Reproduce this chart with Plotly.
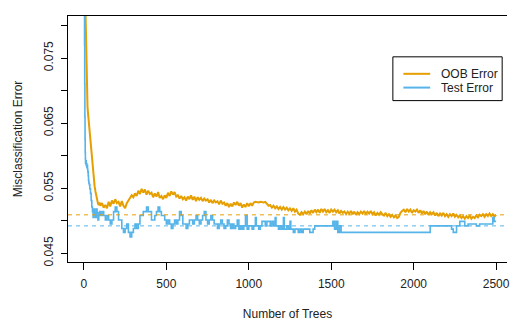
import plotly.graph_objects as go

# ---------------- data ----------------
early_trees = [1, 2, 3, 4, 5, 6, 7, 8, 9, 10, 12, 14, 16, 18, 20, 22, 24, 26, 28, 30,
               33, 36, 40, 44, 48, 52, 56, 60, 65, 70, 75, 80, 85, 90, 95, 100]

oob_early = [0.112, 0.106, 0.100, 0.096, 0.092, 0.089, 0.087, 0.085, 0.083, 0.082,
             0.0795, 0.0755, 0.0720, 0.0695, 0.0682, 0.0675, 0.0668, 0.0662, 0.0655, 0.0648,
             0.0640, 0.0630, 0.0618, 0.0607, 0.0597, 0.0588, 0.0575, 0.0562,
             0.0553, 0.0545, 0.0538, 0.0532, 0.0527, 0.0524, 0.0528, 0.0523]

# OOB error every 10 trees from 110 to 2500
oob_late = [
    0.0527, 0.0520, 0.0524, 0.0519, 0.0529, 0.0522, 0.0531, 0.0526, 0.0533, 0.0527,
    0.0529, 0.0522, 0.0530, 0.0523, 0.0519, 0.0527, 0.0531, 0.0535, 0.0539, 0.0536,
    0.0542, 0.0538, 0.0546, 0.0541, 0.0549, 0.0543, 0.0548, 0.0540, 0.0546, 0.0541,
    0.0543, 0.0536, 0.0542, 0.0537, 0.0544, 0.0535, 0.0538, 0.0533, 0.0539, 0.0535,
    0.0543, 0.0538, 0.0545, 0.0540, 0.0544, 0.0537, 0.0539, 0.0534, 0.0538, 0.0533,
    0.0536, 0.0531, 0.0537, 0.0533, 0.0539, 0.0532, 0.0537, 0.0530, 0.0536, 0.0532,
    0.0535, 0.0530, 0.0534, 0.0531, 0.0533, 0.0528, 0.0532, 0.0527, 0.0531, 0.0528,
    0.0530, 0.0525, 0.0531, 0.0526, 0.0528, 0.0523, 0.0527, 0.0521, 0.0526, 0.0522,
    0.0528, 0.0524, 0.0529, 0.0523, 0.0527, 0.0520, 0.0525, 0.0521, 0.0527, 0.0522,
    0.0527, 0.0523, 0.0528, 0.0529, 0.0528, 0.0528, 0.0529, 0.0528, 0.0528, 0.0529,
    0.0526, 0.0523, 0.0524, 0.0520, 0.0523, 0.0519, 0.0522, 0.0518, 0.0521, 0.0517,
    0.0521, 0.0517, 0.0520, 0.0516, 0.0519, 0.0515, 0.0519, 0.0514, 0.0517, 0.0511,
    0.0509, 0.0513, 0.0510, 0.0514, 0.0510, 0.0515, 0.0511, 0.0516, 0.0512, 0.0517,
    0.0513, 0.0517, 0.0512, 0.0518, 0.0514, 0.0518, 0.0513, 0.0516, 0.0512, 0.0517,
    0.0514, 0.0517, 0.0513, 0.0516, 0.0511, 0.0515, 0.0512, 0.0514, 0.0510, 0.0514,
    0.0511, 0.0515, 0.0510, 0.0514, 0.0509, 0.0513, 0.0510, 0.0514, 0.0511, 0.0515,
    0.0510, 0.0514, 0.0511, 0.0515, 0.0510, 0.0513, 0.0508, 0.0512, 0.0509, 0.0513,
    0.0510, 0.0508, 0.0512, 0.0507, 0.0510, 0.0506, 0.0509, 0.0505, 0.0508, 0.0504,
    0.0506, 0.0512, 0.0515, 0.0517, 0.0513, 0.0518, 0.0514, 0.0517, 0.0512, 0.0516,
    0.0514, 0.0517, 0.0512, 0.0516, 0.0511, 0.0515, 0.0510, 0.0514, 0.0509, 0.0513,
    0.0510, 0.0513, 0.0508, 0.0512, 0.0507, 0.0511, 0.0508, 0.0512, 0.0507, 0.0510,
    0.0506, 0.0510, 0.0507, 0.0511, 0.0506, 0.0509, 0.0505, 0.0508, 0.0504, 0.0507,
    0.0503, 0.0507, 0.0504, 0.0508, 0.0503, 0.0506, 0.0504, 0.0508, 0.0505, 0.0509,
    0.0507, 0.0510, 0.0506, 0.0510, 0.0507, 0.0511, 0.0507, 0.0510, 0.0506, 0.0509,
]
late_trees = list(range(110, 2501, 10))

test_early = [0.100, 0.092, 0.084, 0.077, 0.071, 0.066, 0.0625, 0.0605, 0.0595, 0.0588,
              0.0592, 0.0585, 0.0588, 0.0582, 0.0585, 0.0579, 0.0575, 0.0569, 0.0562, 0.0558,
              0.0555, 0.0549, 0.0542, 0.0531, 0.0521, 0.0514, 0.0505, 0.0518,
              0.0512, 0.0505, 0.0518, 0.0512, 0.0501, 0.0508, 0.0514, 0.0508]

# test error every 10 trees from 110 to 1000
mid_trees = list(range(110, 1001, 10))
test_mid = [
    0.0514, 0.0508, 0.0501, 0.0508, 0.0501, 0.0495, 0.0501, 0.0514, 0.0521, 0.0514,
    0.0501, 0.0501, 0.0488, 0.0482, 0.0488, 0.0495, 0.0482, 0.0475, 0.0482, 0.0488,
    0.0495, 0.0488, 0.0495, 0.0508, 0.0508, 0.0514, 0.0514, 0.0521, 0.0514, 0.0514,
    0.0501, 0.0501, 0.0508, 0.0514, 0.0521, 0.0514, 0.0508, 0.0508, 0.0501,
    0.0495, 0.0501, 0.0495, 0.0488, 0.0495, 0.0501, 0.0495, 0.0501, 0.0514, 0.0508,
    0.0495, 0.0495, 0.0488, 0.0495, 0.0501, 0.0501, 0.0495, 0.0501, 0.0508, 0.0501,
    0.0495, 0.0501, 0.0508, 0.0514, 0.0501, 0.0495, 0.0501, 0.0508, 0.0501, 0.0495,
    0.0495, 0.0488, 0.0495, 0.0501, 0.0495, 0.0488, 0.0492, 0.0501, 0.0495, 0.0488,
    0.0495, 0.0488, 0.0492, 0.0501, 0.0487, 0.0492, 0.0487, 0.0492, 0.0508, 0.0487,
    0.0492,
]

# test error after 1000 trees: points where the step function changes
step_trees = [1010, 1020, 1030, 1040, 1045, 1060, 1070, 1080, 1100, 1110, 1130, 1140,
              1150, 1160, 1165, 1180, 1190, 1200, 1210, 1215, 1230, 1240, 1250, 1255,
              1270, 1280, 1300, 1310, 1320, 1330, 1370, 1390, 1400, 1510, 1520, 1530,
              1540, 1550, 1560, 2100, 2230, 2240, 2260, 2280, 2310, 2330, 2380, 2400,
              2480, 2488, 2500]
test_steps = [0.0492, 0.0487, 0.0492, 0.0505, 0.0492, 0.0487, 0.0492, 0.0499, 0.0492,
              0.0499, 0.0492, 0.0499, 0.0492, 0.0505, 0.0492, 0.0487, 0.0492, 0.0487,
              0.0505, 0.0487, 0.0492, 0.0487, 0.0499, 0.0487, 0.0482, 0.0487, 0.0482,
              0.0487, 0.0482, 0.0487, 0.0482, 0.0487, 0.0492, 0.0499, 0.0487, 0.0499,
              0.0482, 0.0492, 0.0482, 0.0492, 0.0487, 0.0482, 0.0492, 0.0499, 0.0492,
              0.0495, 0.0492, 0.0495, 0.0505, 0.0499, 0.0499]

oob_final = 0.0509
test_final = 0.0492

series_names = ["OOB Error", "Test Error"]
x_ticks = [0, 500, 1000, 1500, 2000, 2500]
y_ticks = [0.045, 0.050, 0.055, 0.060, 0.065, 0.070, 0.075, 0.080]
y_labels = ["0.045", "", "0.055", "", "0.065", "", "0.075", ""]

oob_trees = early_trees + late_trees
oob_err = oob_early + oob_late
test_trees = early_trees + mid_trees + step_trees
test_err = test_early + test_mid + test_steps
assert len(oob_trees) == len(oob_err)
assert len(test_trees) == len(test_err)

# ---------------- figure ----------------
ORANGE = "#E69F00"
BLUE = "#56B4E9"
FONT = "Liberation Sans, Arial, Helvetica, sans-serif"
TXT = "#222"

fig = go.Figure()
fig.add_trace(go.Scatter(x=oob_trees, y=oob_err, mode="lines", name=series_names[0],
                         line=dict(color=ORANGE, width=2), showlegend=False))
fig.add_trace(go.Scatter(x=test_trees, y=test_err, mode="lines", name=series_names[1],
                         line=dict(color=BLUE, width=1.6, shape="hv"), showlegend=False))

for val, col in [(oob_final, ORANGE), (test_final, BLUE)]:
    fig.add_shape(type="line", xref="paper", x0=0, x1=1, yref="y", y0=val, y1=val,
                  line=dict(color=col, width=1, dash="4px,4px"), layer="above")

# legend box drawn like R's legend()
leg_x0, leg_x1, leg_y0, leg_y1 = 0.740, 0.989, 0.656, 0.834
fig.add_shape(type="rect", xref="paper", yref="paper", x0=leg_x0, x1=leg_x1,
              y0=leg_y0, y1=leg_y1, line=dict(color="black", width=1),
              fillcolor="white", layer="above")
for name, col, yy in [(series_names[0], ORANGE, 0.765), (series_names[1], BLUE, 0.709)]:
    fig.add_shape(type="line", xref="paper", yref="paper", x0=0.764, x1=0.825,
                  y0=yy, y1=yy, line=dict(color=col, width=2), layer="above")
    fig.add_annotation(xref="paper", yref="paper", x=0.846, y=yy, text=name,
                       showarrow=False, xanchor="left", yanchor="middle",
                       font=dict(size=12, color=TXT, family=FONT))

fig.update_layout(
    width=510, height=321,
    margin=dict(l=68, r=0, t=16, b=58),
    paper_bgcolor="white", plot_bgcolor="white",
    font=dict(family=FONT, size=12, color=TXT),
    showlegend=False,
)
fig.update_xaxes(range=[-96.4, 2566], tickvals=x_ticks, ticktext=[str(t) for t in x_ticks],
                 showgrid=False, zeroline=False, showline=True, linecolor="black",
                 linewidth=1, mirror=True, ticks="outside", ticklen=7, tickcolor="black",
                 ticklabelstandoff=4, ticklabeloverflow="allow",
                 title=dict(text="Number of Trees", standoff=21, font=dict(size=12)))
fig.update_yaxes(range=[0.04365, 0.08146], tickvals=y_ticks, ticktext=y_labels,
                 tickangle=-90, showgrid=False, zeroline=False, showline=True,
                 linecolor="black", linewidth=1, ticks="outside", ticklen=6,
                 tickcolor="black", ticklabelstandoff=3,
                 title=dict(text="Misclassification Error", standoff=17, font=dict(size=12)))

fig.write_html("out.html")
